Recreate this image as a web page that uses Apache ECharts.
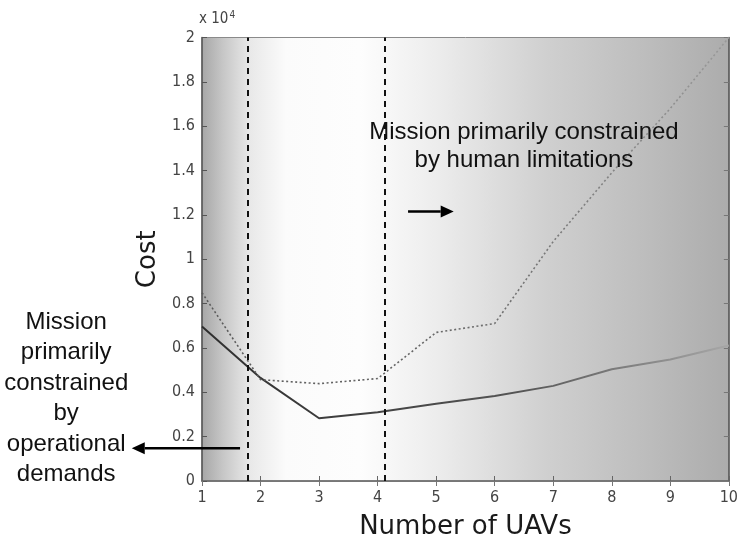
<!DOCTYPE html>
<html>
<head>
<meta charset="utf-8">
<script src="https://cdn.jsdelivr.net/npm/echarts@6/dist/echarts.min.js"></script>
<style>
html,body{margin:0;padding:0;background:#fff;}
#chart{width:741px;height:545px;}
</style>
</head>
<body>
<div id="chart"></div>
<script>
// ---- data ----
const uavs = [1, 2, 3, 4, 5, 6, 7, 8, 9, 10];
const costSolid = [6970, 4650, 2830, 3100, 3480, 3830, 4290, 5040, 5480, 6110];
const costDotted = [8490, 4570, 4390, 4620, 6700, 7100, 10800, 13900, 16800, 20000];
const boundaries = [1.79, 4.12];

const tickFont = '"Liberation Sans Narrow", "DejaVu Sans Condensed", "Liberation Sans", sans-serif';
const titleFont = '"DejaVu Sans", Verdana, sans-serif';
const annoFont = '"Liberation Sans", Arial, sans-serif';

const chart = echarts.init(document.getElementById('chart'));

const bg = new echarts.graphic.LinearGradient(0, 0, 1, 0, [
  {offset: 0, color: '#a6a6a6'},
  {offset: 0.04, color: '#c6c6c6'},
  {offset: 0.09, color: '#e8e8e8'},
  {offset: 0.16, color: '#fbfbfb'},
  {offset: 0.30, color: '#fdfdfd'},
  {offset: 0.45, color: '#ececec'},
  {offset: 0.65, color: '#d0d0d0'},
  {offset: 0.85, color: '#bcbcbc'},
  {offset: 1, color: '#acacac'}
]);

const solidColor = new echarts.graphic.LinearGradient(0, 0, 1, 0, [
  {offset: 0, color: '#2e2e2e'},
  {offset: 0.6, color: '#555555'},
  {offset: 1, color: '#a8a8a8'}
]);
const dottedColor = new echarts.graphic.LinearGradient(0, 0, 1, 0, [
  {offset: 0, color: '#5a5a5a'},
  {offset: 0.5, color: '#6a6a6a'},
  {offset: 1, color: '#9a9a9a'}
]);

const option = {
  animation: false,
  backgroundColor: '#ffffff',
  grid: {
    left: 202, right: 11, top: 37.5, bottom: 60,
    show: true, backgroundColor: bg, borderColor: '#8a8a8a', borderWidth: 1
  },
  xAxis: [{
    type: 'value', min: 1, max: 10, interval: 1,
    name: 'Number of UAVs', nameLocation: 'middle', nameGap: 33,
    nameTextStyle: {fontFamily: titleFont, fontSize: 26, color: '#1a1a1a'},
    axisLine: {show: true, onZero: false, lineStyle: {color: '#666', width: 1.5}},
    axisTick: {show: true, inside: true, length: 5, lineStyle: {color: '#666'}},
    axisLabel: {fontFamily: tickFont, fontSize: 16, color: '#444', margin: 9},
    splitLine: {show: false}
  }, {
    type: 'value', min: 1, max: 10, interval: 1, position: 'top',
    axisLine: {show: true, lineStyle: {color: '#777', width: 1}},
    axisTick: {show: true, inside: true, length: 5, lineStyle: {color: '#777'}},
    axisLabel: {show: false}, splitLine: {show: false}
  }],
  yAxis: [{
    type: 'value', min: 0, max: 20000, interval: 2000,
    name: 'Cost', nameLocation: 'middle', nameGap: 37,
    nameTextStyle: {fontFamily: titleFont, fontSize: 26, color: '#1a1a1a'},
    axisLine: {show: true, lineStyle: {color: '#555', width: 1.5}},
    axisTick: {show: true, inside: true, length: 5, lineStyle: {color: '#555'}},
    axisLabel: {
      fontFamily: tickFont, fontSize: 16, color: '#444', margin: 7,
      formatter: v => String(+(v / 10000).toFixed(1))
    },
    splitLine: {show: false}
  }, {
    type: 'value', min: 0, max: 20000, interval: 2000, position: 'right',
    axisLine: {show: true, lineStyle: {color: '#555', width: 1.5}},
    axisTick: {show: true, inside: true, length: 5, lineStyle: {color: '#777'}},
    axisLabel: {show: false}, splitLine: {show: false}
  }],
  series: [{
    type: 'line', name: 'solid', xAxisIndex: 0, yAxisIndex: 0,
    data: uavs.map((x, i) => [x, costSolid[i]]),
    showSymbol: false, symbol: 'none',
    lineStyle: {color: solidColor, width: 2}
  }, {
    type: 'line', name: 'dotted', xAxisIndex: 0, yAxisIndex: 0,
    data: uavs.map((x, i) => [x, costDotted[i]]),
    showSymbol: false, symbol: 'none',
    lineStyle: {color: dottedColor, width: 1.6, type: [2, 2.5]},
    markLine: {
      silent: true, symbol: ['none', 'none'], label: {show: false},
      lineStyle: {color: '#111', type: [6, 5], width: 2},
      data: boundaries.map(b => ({xAxis: b}))
    }
  }],
  graphic: []
};
chart.setOption(option);

// annotations positioned via the axes
function px(x, y) { return chart.convertToPixel({gridIndex: 0}, [x, y]); }
const pTopText = px(6.5, 15100);
const pTopArrowA = px(4.52, 12150);
const pTopArrowB = px(5.3, 12150);
const pLeftArrowA = px(1.65, 1480);
const pLeftArrowB = px(-0.2, 1480);
const pLeftText = px(-1.32, 7850);

function arrow(a, b) {
  const dx = b[0] - a[0], dy = b[1] - a[1];
  const len = Math.hypot(dx, dy), ux = dx / len, uy = dy / len;
  const hl = 13, hw = 6;
  const base = [b[0] - ux * hl, b[1] - uy * hl];
  return [{
    type: 'line', shape: {x1: a[0], y1: a[1], x2: base[0], y2: base[1]},
    style: {stroke: '#000', lineWidth: 2.5}, z: 100
  }, {
    type: 'polygon',
    shape: {points: [b, [base[0] - uy * hw, base[1] + ux * hw], [base[0] + uy * hw, base[1] - ux * hw]]},
    style: {fill: '#000'}, z: 100
  }];
}

const graphics = [].concat(
  [{
    type: 'text', x: pTopText[0], y: pTopText[1], z: 100,
    style: {
      text: 'Mission primarily constrained\nby human limitations',
      font: '24px ' + annoFont, fill: '#111', align: 'center', verticalAlign: 'middle',
      lineHeight: 28
    }
  }, {
    type: 'text', x: pLeftText[0], y: pLeftText[1], z: 100,
    style: {
      text: 'Mission\nprimarily\nconstrained\nby\noperational\ndemands',
      font: '24px ' + annoFont, fill: '#111', align: 'center', verticalAlign: 'top',
      lineHeight: 30.5
    }
  }, {
    type: 'text', x: 199, y: 10, z: 100,
    style: {
      rich: {
        b: {fontFamily: tickFont, fontSize: 15, fill: '#444', color: '#444'},
        s: {fontFamily: tickFont, fontSize: 10, fill: '#444', color: '#444', verticalAlign: 'top', padding: [0, 0, 8, 1]}
      },
      text: '{b|x 10}{s|4}'
    }
  }],
  arrow(pTopArrowA, pTopArrowB),
  arrow(pLeftArrowA, pLeftArrowB)
);
chart.setOption({graphic: graphics});
</script>
</body>
</html>
